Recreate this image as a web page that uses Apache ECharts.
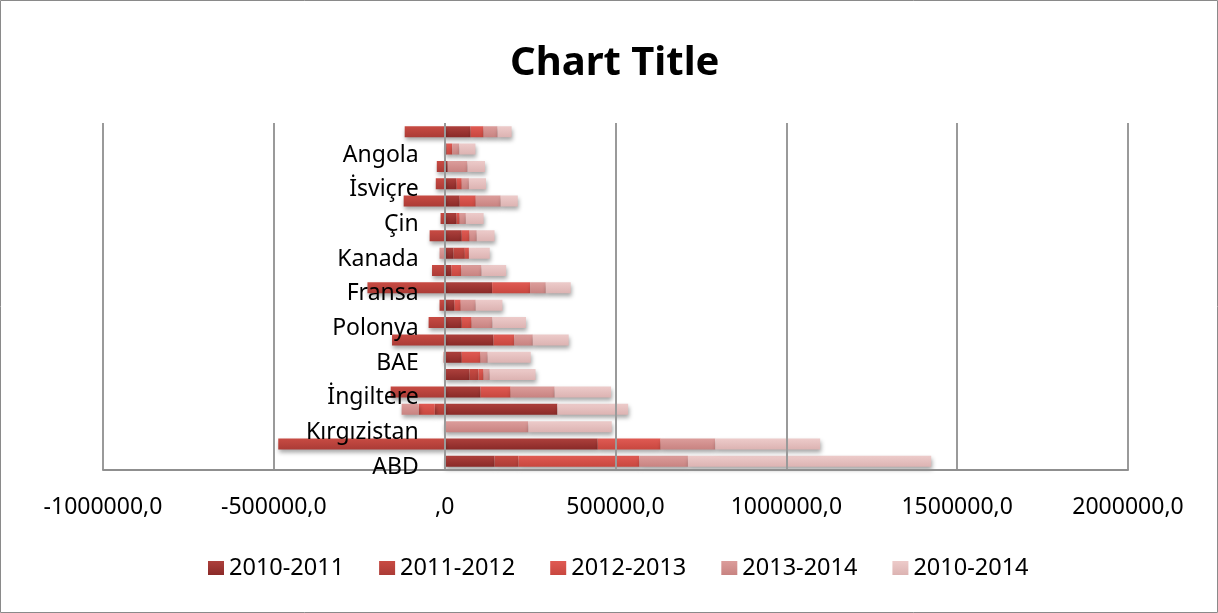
<!DOCTYPE html>
<html>
<head>
<meta charset="utf-8">
<script src="https://cdn.jsdelivr.net/npm/echarts@6/dist/echarts.min.js"></script>
<style>
  html, body { margin: 0; padding: 0; background: #fff; }
  #chart { width: 1218px; height: 613px; }
</style>
</head>
<body>
<div id="chart"></div>
<script>
// Categories, bottom to top (only every other name is printed on the axis)
const categories = [
  'ABD', '', 'Kırgızistan', '', 'İngiltere', '', 'BAE', '', 'Polonya', '',
  'Fransa', '', 'Kanada', '', 'Çin', '', 'İsviçre', '', 'Angola', ''
];

const seriesNames = ['2010-2011', '2011-2012', '2012-2013', '2013-2014', '2010-2014'];

const v2010_2011 = [146000, 448000, 0, 330000, 105000, 73000, 50000, 143000, 50000, 29000,
                    139000, 20000, 26000, 50000, 35000, 44000, 35000, 9000, 6000, 76000];
const v2011_2012 = [70000, -487000, 0, -29000, -158000, 26000, -3000, -154000, -47000, -15000,
                    -226000, -37000, 33000, -44000, -12000, -120000, -26000, -23000, 0, -117000];
const v2012_2013 = [354000, 184000, -2000, -47000, 88000, 15000, 55000, 61000, 29000, 18000,
                    111000, 29000, 12000, 23000, 9000, 47000, 15000, 0, 16000, 38000];
const v2013_2014 = [142000, 160000, 245000, -50000, 129000, 18000, 21000, 54000, 61000, 44000,
                    46000, 59000, -15000, 21000, 18000, 73000, 21000, 58000, 21000, 41000];
const v2010_2014 = [712000, 307000, 244000, 207000, 165000, 134000, 126000, 105000, 98000, 78000,
                    73000, 72000, 61000, 52000, 52000, 50000, 50000, 51000, 47000, 41000];

const xTicks = { min: -1000000, max: 2000000, interval: 500000 };

// Red palette, each bar shaded from a lighter top to a darker bottom
const shades = [
  ['#ad403c', '#8a2a28'],
  ['#c84b43', '#ab3b36'],
  ['#e05a53', '#c8473f'],
  ['#dc9d9b', '#c88381'],
  ['#edcbca', '#dcb3b2']
];

const valueSets = [v2010_2011, v2011_2012, v2012_2013, v2013_2014, v2010_2014];

const FONT = 'Noto Sans';
const GRID = { left: 103, right: 90, top: 123, bottom: 143 };

function fmt(v) {
  if (v === 0) return ',0';
  return v.toFixed(1).replace('.', ',');
}

const series = seriesNames.map((name, i) => ({
  name: name,
  type: 'bar',
  stack: 'total',
  barWidth: 11,
  data: valueSets[i],
  itemStyle: {
    color: new echarts.graphic.LinearGradient(0, 0, 0, 1, [
      { offset: 0, color: shades[i][0] },
      { offset: 1, color: shades[i][1] }
    ]),
    shadowColor: 'rgba(0,0,0,0.35)',
    shadowBlur: 4,
    shadowOffsetX: 1,
    shadowOffsetY: 3
  },
  emphasis: { disabled: true },
  z: 2
}));

const chart = echarts.init(document.getElementById('chart'), null, { renderer: 'canvas' });

const option = {
  animation: false,
  backgroundColor: '#ffffff',
  title: {
    text: 'Chart Title',
    left: 510,
    top: 44,
    padding: 0,
    textStyle: { fontFamily: FONT, fontSize: 40, fontWeight: 'bold', color: '#000' }
  },
  legend: {
    data: seriesNames,
    left: 203,
    top: 551,
    icon: 'rect',
    itemWidth: 16,
    itemHeight: 14,
    itemGap: 35,
    textStyle: { fontFamily: FONT, fontSize: 23.5, color: '#000' }
  },
  grid: {
    left: GRID.left,
    right: GRID.right,
    top: GRID.top,
    bottom: GRID.bottom,
    containLabel: false,
    outerBoundsMode: 'none'
  },
  xAxis: {
    type: 'value',
    min: xTicks.min,
    max: xTicks.max,
    interval: xTicks.interval,
    z: 3,
    axisLine: { show: true, onZero: false, lineStyle: { color: '#8f8f8f', width: 2 } },
    axisTick: { show: false },
    splitLine: { show: true, lineStyle: { color: '#9a9a9a', width: 2 } },
    axisLabel: {
      formatter: fmt,
      margin: 26,
      fontFamily: FONT,
      fontSize: 23,
      color: '#000'
    }
  },
  yAxis: {
    type: 'category',
    data: categories,
    z: 3,
    axisLine: { show: false },
    axisTick: { show: false },
    splitLine: { show: false },
    axisLabel: {
      interval: 1,
      margin: 26,
      formatter: (name) => (name ? '{n|' + name + '}' : ''),
      rich: {
        n: {
          fontFamily: FONT,
          fontSize: 23,
          color: '#000',
          padding: [12, 0, 0, 0]
        }
      }
    }
  },
  graphic: [{
    type: 'rect',
    shape: { x: 0.5, y: 0.5, width: 1217, height: 612 },
    style: { fill: null, stroke: '#8a8a8a', lineWidth: 1 },
    silent: true,
    z: 100
  }],
  series: series
};

chart.setOption(option);

// Place the category axis (and its labels) on the value axis' zero line
const zeroX = chart.convertToPixel({ xAxisIndex: 0 }, 0);
chart.setOption({ yAxis: { offset: -(zeroX - GRID.left) } });
</script>
</body>
</html>
